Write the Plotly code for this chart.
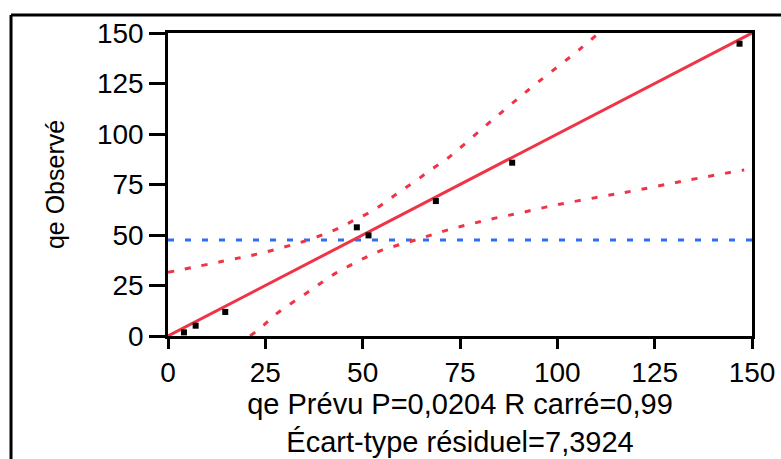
import plotly.graph_objects as go

# Observed vs predicted points
pred_x = [4.1, 7.1, 14.7, 48.5, 51.5, 68.8, 88.4, 146.8]
obs_y = [1.8, 5.1, 11.9, 53.8, 49.8, 66.8, 85.8, 144.7]

# Fitted line
fit_x = [0, 150]
fit_y = [0, 150]

# Mean of observed
mean_y = 47.5
mean_x = [0, 150]

# Upper confidence curve
upper_x = [0, 14.3, 23.7, 32.3, 36.6, 44.3, 48.2, 52.1, 56.2, 59.8, 63.7, 67.3,
           71.0, 74.4, 81.3, 88.0, 95.0, 105.8, 110.6]
upper_y = [31.5, 37.1, 40.9, 45.4, 47.9, 53.8, 57.8, 61.5, 66.8, 71.8, 76.9, 82.0,
           86.8, 92.1, 103.6, 114.5, 125.6, 142.0, 150.0]

# Lower confidence curve
lower_x = [21.1, 24.6, 28.0, 31.9, 35.7, 39.2, 43.0, 46.9, 51.2, 55.1, 59.4, 63.7,
           67.9, 72.2, 76.5, 80.8, 85.1, 89.9, 100.0, 111.3, 120.8, 133.7, 148.0]
lower_y = [0.0, 5.4, 11.2, 16.5, 21.4, 26.1, 31.0, 35.1, 39.3, 42.6, 45.2, 47.6,
           50.2, 52.7, 54.9, 56.9, 58.8, 60.7, 65.0, 69.0, 72.3, 77.2, 82.2]

x_ticks = [0, 25, 50, 75, 100, 125, 150]
y_ticks = [0, 25, 50, 75, 100, 125, 150]

x_title = "qe Prévu P=0,0204 R carré=0,99<br>Écart-type résiduel=7,3924"
y_title = "qe Observé"

RED = "rgb(240,52,72)"
BLUE = "rgb(45,110,245)"
FONT = "Liberation Sans, Arial, sans-serif"

fig = go.Figure()
fig.add_trace(go.Scatter(x=mean_x, y=[mean_y, mean_y], mode="lines",
                         line=dict(color=BLUE, width=3, dash="6px,11px"),
                         hoverinfo="skip", showlegend=False))
fig.add_trace(go.Scatter(x=upper_x, y=upper_y, mode="lines",
                         line=dict(color=RED, width=3, dash="6px,11px", shape="spline"),
                         showlegend=False))
fig.add_trace(go.Scatter(x=lower_x, y=lower_y, mode="lines",
                         line=dict(color=RED, width=3, dash="6px,11px", shape="spline"),
                         showlegend=False))
fig.add_trace(go.Scatter(x=fit_x, y=fit_y, mode="lines",
                         line=dict(color=RED, width=3), showlegend=False))
fig.add_trace(go.Scatter(x=pred_x, y=obs_y, mode="markers",
                         marker=dict(symbol="square", size=6, color="black"),
                         showlegend=False))

fig.update_layout(
    width=781, height=459,
    margin=dict(l=168, r=29, t=33, b=123, autoexpand=False),
    paper_bgcolor="white", plot_bgcolor="white",
    font=dict(family=FONT, color="black"),
    shapes=[
        dict(type="line", xref="paper", yref="paper", x0=-0.2688, x1=-0.2688,
             y0=1.0594, y1=-0.5, line=dict(color="black", width=3)),
        dict(type="line", xref="paper", yref="paper", x0=-0.2688, x1=1.2,
             y0=1.0594, y1=1.0594, line=dict(color="black", width=3)),
    ],
)
fig.update_xaxes(range=[0, 150], tickvals=x_ticks, ticktext=[str(v) for v in x_ticks],
                 automargin=False,
                 showgrid=False, zeroline=False, showline=True, linecolor="black",
                 linewidth=2.5, mirror=True, ticks="outside", ticklen=10, tickwidth=2.5,
                 tickcolor="black", tickfont=dict(size=28, family=FONT),
                 title=dict(text=x_title, font=dict(size=29, family=FONT), standoff=2))
fig.update_yaxes(range=[0, 150], tickvals=y_ticks, ticktext=[str(v) for v in y_ticks],
                 automargin=False,
                 showgrid=False, zeroline=False, showline=True, linecolor="black",
                 linewidth=2.5, mirror=True, ticks="outside", ticklen=16, tickwidth=2.5,
                 tickcolor="black", tickfont=dict(size=28, family=FONT),
                 title=dict(text=y_title, font=dict(size=25, family=FONT), standoff=26))

fig.write_html("out.html", config={"displayModeBar": False},
               post_script="document.body.style.margin='0';")
